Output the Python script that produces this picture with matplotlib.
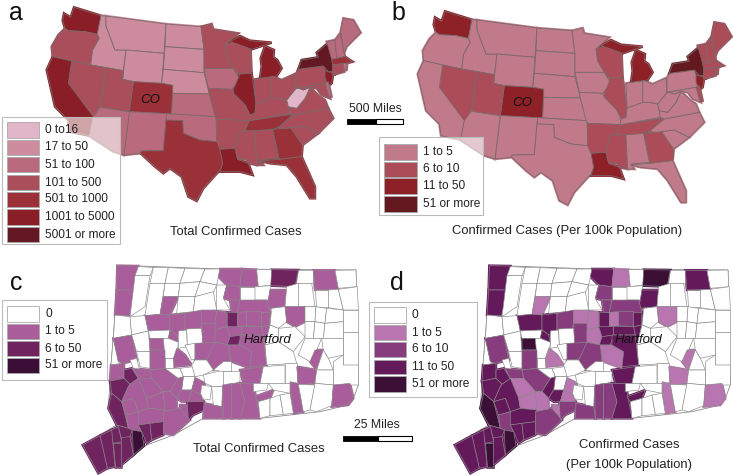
import matplotlib
matplotlib.use("Agg")
import matplotlib.pyplot as plt
from matplotlib.patches import Polygon, Rectangle

plt.rcParams['font.family'] = ['Liberation Sans', 'DejaVu Sans']

## state outlines at 3x pixel scale
state_names = ["WA", "OR", "ID", "MT", "ND", "SD", "WY", "NE", "CO", "KS", "NM", "UT", "NV", "CA", "AZ", "OK", "TX",
               "IA", "MN", "WI", "IL", "MO", "AR", "LA", "MS", "AL", "GA", "FL", "SC", "NC", "TN", "KY", "VA", "WV",
               "OH", "IN", "MIL", "MIU", "PA", "NY", "LI", "NJ", "MD", "DE", "VT", "NH", "ME", "MA", "CT", "RI"]
state_shapes = [
    [(222, 22), (303, 47), (292, 103), (255, 95), (205, 92), (195, 85), (188, 62), (192, 40), (212, 52)],
    [(195, 85), (205, 92), (255, 95), (292, 103), (298, 115), (278, 150), (272, 195), (215, 183), (158, 170), (155, 140), (175, 105)],
    [(303, 47), (318, 48), (318, 78), (345, 150), (378, 150), (370, 212), (318, 203), (272, 195), (278, 150), (298, 115), (292, 103)],
    [(318, 48), (498, 72), (492, 160), (378, 150), (345, 150), (318, 78)],
    [(498, 72), (603, 80), (612, 148), (495, 140)],
    [(495, 140), (612, 148), (612, 218), (490, 208)],
    [(378, 150), (492, 160), (485, 250), (400, 245), (368, 238)],
    [(490, 208), (612, 218), (628, 282), (518, 280), (518, 256), (485, 250)],
    [(400, 245), (485, 250), (518, 256), (515, 342), (388, 335)],
    [(518, 280), (628, 282), (648, 350), (515, 342)],
    [(388, 335), (500, 341), (490, 452), (425, 453), (420, 460), (372, 465)],
    [(318, 203), (370, 212), (368, 238), (400, 245), (388, 335), (303, 322)],
    [(215, 183), (272, 195), (318, 203), (300, 322), (282, 355), (272, 345), (205, 250)],
    [(158, 170), (215, 183), (205, 250), (280, 350), (272, 408), (210, 395), (205, 360), (165, 320), (140, 210)],
    [(300, 322), (388, 335), (372, 465), (340, 455), (268, 408), (280, 350)],
    [(500, 341), (515, 342), (648, 350), (650, 425), (600, 420), (550, 400), (548, 362), (498, 360)],
    [(498, 360), (548, 362), (550, 400), (600, 420), (650, 425), (658, 430), (668, 490), (660, 510), (610, 565), (590, 603),
     (565, 590), (545, 530), (510, 505), (490, 520), (465, 500), (420, 458), (425, 453), (490, 452)],
    [(612, 205), (700, 205), (720, 240), (695, 268), (625, 265)],
    [(603, 80), (635, 72), (640, 88), (715, 100), (675, 135), (680, 170), (700, 205), (612, 205), (612, 148)],
    [(675, 135), (715, 120), (752, 150), (755, 220), (718, 222), (700, 205), (680, 170)],
    [(720, 222), (755, 220), (768, 310), (765, 340), (750, 345), (735, 315), (700, 280), (700, 268)],
    [(625, 265), (695, 268), (700, 280), (735, 315), (750, 345), (748, 362), (650, 358), (645, 348), (628, 282)],
    [(650, 358), (748, 362), (735, 392), (718, 395), (705, 445), (660, 448), (650, 425)],
    [(660, 448), (705, 445), (713, 478), (745, 490), (758, 525), (720, 515), (660, 515), (668, 490)],
    [(718, 395), (735, 392), (765, 392), (770, 495), (745, 490), (740, 478), (713, 478), (705, 445)],
    [(765, 392), (818, 388), (835, 475), (780, 480), (790, 495), (770, 495)],
    [(818, 388), (855, 385), (870, 380), (908, 435), (905, 470), (838, 478)],
    [(778, 483), (838, 478), (905, 470), (945, 560), (945, 595), (930, 595), (890, 530), (860, 495), (810, 490)],
    [(855, 385), (910, 378), (955, 400), (908, 435), (870, 380)],
    [(880, 345), (985, 325), (1000, 355), (955, 400), (910, 378), (855, 385), (835, 382)],
    [(735, 392), (748, 362), (880, 342), (835, 382), (818, 388), (765, 392)],
    [(750, 345), (765, 340), (768, 312), (815, 295), (835, 295), (860, 300), (865, 320), (868, 340), (748, 362)],
    [(868, 340), (865, 320), (890, 325), (915, 295), (930, 262), (960, 290), (975, 300), (985, 325), (880, 345)],
    [(860, 300), (888, 265), (898, 265), (910, 270), (930, 262), (915, 295), (890, 325), (865, 320)],
    [(815, 228), (845, 240), (885, 222), (888, 265), (860, 300), (835, 295), (815, 295)],
    [(765, 238), (815, 230), (815, 295), (768, 312)],
    [(782, 175), (795, 138), (822, 150), (820, 172), (832, 180), (845, 205), (830, 228), (780, 235), (785, 200)],
    [(690, 125), (720, 108), (750, 122), (815, 128), (755, 148), (720, 135)],
    [(888, 222), (895, 208), (970, 198), (985, 240), (975, 250), (888, 265)],
    [(895, 208), (905, 180), (955, 172), (950, 158), (985, 128), (1000, 190), (1000, 215), (985, 215), (970, 198)],
    [(990, 222), (1025, 208), (1005, 224)],
    [(975, 212), (1000, 220), (995, 250), (985, 258), (975, 235)],
    [(888, 265), (975, 250), (990, 295), (965, 285), (950, 265), (930, 262), (910, 270), (898, 265)],
    [(975, 250), (985, 245), (995, 290), (988, 292)],
    [(980, 125), (1005, 120), (1010, 175), (995, 178)],
    [(1005, 120), (1020, 100), (1035, 170), (1010, 175)],
    [(1022, 95), (1030, 55), (1060, 60), (1082, 98), (1040, 140), (1032, 160)],
    [(995, 178), (1035, 170), (1058, 185), (1040, 190), (998, 195)],
    [(998, 195), (1030, 190), (1033, 215), (998, 225)],
    [(1030, 190), (1042, 190), (1040, 210), (1033, 212)],
]
## class index per state, same order as state_names
state_total = [5, 3, 1, 1, 1, 1, 1, 1, 4, 2, 2, 3, 3, 5, 2, 2, 4,
               2, 3, 3, 5, 3, 3, 5, 3, 3, 4, 4, 3, 3, 4, 3, 3, 0,
               3, 3, 5, 5, 3, 6, 6, 5, 3, 2, 2, 2, 2, 4, 3, 2]
state_rate = [2, 0, 0, 0, 0, 0, 0, 0, 2, 0, 0, 1, 1, 0, 0, 0, 0,
              0, 0, 1, 1, 0, 1, 2, 1, 0, 1, 0, 0, 0, 1, 0, 0, 0,
              0, 0, 2, 2, 0, 3, 3, 2, 0, 1, 1, 1, 1, 1, 1, 1]

total_labels = ["0 to16", "17 to 50", "51 to 100", "101 to 500", "501 to 1000", "1001 to 5000", "5001 or more"]
total_colors = ["#e0b6c8", "#cc8c9e", "#b96a7c", "#ab4e5b", "#9a3038", "#8a1e26", "#641824"]
rate_labels = ["1 to 5", "6 to 10", "11 to 50", "51 or more"]
rate_colors = ["#c07a8a", "#ab4c58", "#8e2028", "#641820"]

ct_outline = [(352, 32), (415, 33), (660, 42), (1068, 45), (1075, 390), (1060, 430), (1045, 450), (960, 470),
              (780, 490), (610, 490), (520, 540), (440, 570), (400, 600), (295, 655), (248, 570), (350, 510),
              (325, 460), (333, 330), (345, 180)]
## towns, row by row from the north border down
town_shapes = [
    [(352, 32), (415, 33), (405, 105), (350, 105)], [(415, 35), (460, 37), (450, 62), (405, 62)],
    [(460, 37), (505, 38), (495, 85), (450, 85)], [(505, 38), (555, 40), (540, 85), (495, 85)],
    [(555, 40), (615, 42), (600, 80), (540, 85)], [(615, 42), (660, 42), (650, 90), (600, 80)],
    [(660, 42), (725, 42), (720, 95), (680, 90), (655, 65)], [(725, 42), (770, 44), (775, 95), (720, 95)],
    [(770, 44), (815, 44), (815, 90), (775, 95)], [(815, 44), (895, 45), (885, 95), (812, 92)],
    [(895, 45), (940, 45), (940, 85), (888, 85)], [(940, 46), (1005, 46), (1015, 103), (945, 105)],
    [(1005, 46), (1068, 45), (1070, 95), (1015, 100)],
    ## second row
    [(350, 105), (405, 105), (405, 125), (388, 182), (345, 180)], [(405, 62), (450, 62), (435, 155), (390, 185)],
    [(450, 85), (495, 85), (480, 178), (435, 182)], [(495, 85), (540, 85), (535, 125), (490, 125)],
    [(490, 125), (535, 125), (510, 180), (480, 178)], [(540, 85), (600, 80), (585, 125), (535, 125)],
    [(535, 125), (585, 125), (580, 170), (530, 175)], [(600, 80), (650, 90), (640, 112), (585, 125)],
    [(585, 125), (640, 110), (650, 165), (580, 170)], [(650, 90), (680, 90), (670, 130), (690, 165), (650, 165)],
    [(680, 90), (720, 95), (720, 135), (690, 135), (670, 130)], [(720, 95), (765, 95), (765, 135), (720, 135)],
    [(765, 95), (812, 92), (805, 135), (765, 135)], [(810, 105), (860, 105), (855, 155), (800, 160), (805, 135)],
    [(860, 95), (895, 85), (895, 155), (855, 155)], [(895, 85), (935, 85), (945, 155), (895, 155)],
    [(945, 105), (985, 105), (985, 155), (948, 155)], [(985, 105), (1015, 103), (1030, 165), (985, 158)],
    [(1015, 103), (1072, 95), (1075, 165), (1030, 165)],
    ## third row
    [(690, 135), (720, 135), (712, 172), (695, 172)], [(720, 135), (800, 135), (810, 172), (712, 172)],
    [(345, 180), (390, 185), (395, 240), (340, 250)], [(390, 185), (435, 182), (445, 228), (395, 240)],
    [(435, 182), (480, 178), (510, 180), (510, 225), (445, 228)],
    [(510, 180), (555, 175), (555, 225), (530, 240), (510, 225)],
    [(555, 175), (605, 165), (605, 205), (600, 220), (555, 225)], [(605, 165), (650, 165), (645, 205), (605, 205)],
    [(650, 168), (680, 172), (680, 215), (645, 225), (645, 205)], [(680, 172), (712, 172), (712, 215), (680, 215)],
    [(712, 172), (740, 170), (740, 212), (712, 215)], [(740, 170), (785, 170), (785, 215), (740, 212)],
    [(785, 172), (810, 172), (808, 210), (785, 215)], [(815, 160), (855, 155), (860, 200), (835, 220), (810, 210)],
    [(855, 155), (915, 155), (915, 200), (885, 215), (860, 200)], [(915, 155), (948, 155), (945, 200), (915, 200)],
    [(948, 155), (980, 160), (975, 205), (945, 200)], [(980, 160), (1030, 165), (1030, 200), (975, 205)],
    [(1030, 165), (1075, 165), (1075, 230), (1030, 230)],
    ## fourth row
    [(340, 250), (355, 320), (368, 325), (333, 330)], [(340, 250), (395, 240), (410, 315), (368, 325), (355, 320)],
    [(395, 240), (445, 228), (450, 290), (410, 290)], [(445, 228), (510, 225), (505, 250), (450, 250)],
    [(450, 250), (490, 250), (495, 285), (450, 285)], [(510, 225), (530, 240), (535, 262), (505, 250)],
    [(490, 250), (505, 250), (535, 262), (530, 310), (495, 310)], [(535, 228), (560, 225), (562, 275), (535, 280)],
    [(560, 222), (605, 220), (608, 265), (562, 270)], [(605, 205), (645, 205), (645, 262), (608, 265)],
    [(645, 225), (680, 215), (690, 245), (685, 270), (645, 262)], [(680, 215), (725, 215), (725, 240), (690, 245)],
    [(682, 270), (690, 245), (725, 240), (715, 270)], [(725, 215), (785, 215), (790, 240), (725, 240)],
    [(785, 215), (810, 210), (795, 270), (790, 240)], [(810, 210), (835, 220), (835, 260), (795, 270)],
    [(835, 220), (885, 215), (915, 245), (880, 290), (835, 260)], [(915, 200), (945, 200), (940, 250), (915, 250)],
    [(945, 200), (975, 205), (970, 250), (940, 250)], [(975, 205), (1030, 200), (1030, 250), (970, 250)],
    [(1030, 230), (1075, 230), (1075, 330), (1030, 330), (1030, 250)],
    ## fifth row
    [(410, 290), (450, 290), (450, 340), (420, 335)], [(390, 315), (410, 310), (420, 350), (400, 340)],
    [(450, 285), (495, 285), (495, 340), (450, 345)], [(495, 310), (520, 310), (520, 340), (495, 340)],
    [(530, 280), (555, 300), (575, 330), (525, 335), (520, 310)], [(555, 270), (585, 265), (585, 312), (575, 315)],
    [(585, 265), (645, 262), (640, 310), (585, 315)], [(645, 262), (685, 270), (690, 320), (640, 345), (620, 315)],
    [(685, 270), (720, 270), (755, 290), (750, 340), (695, 320)], [(720, 240), (790, 240), (800, 330), (750, 335), (755, 290), (720, 270)],
    [(795, 270), (835, 260), (880, 290), (890, 325), (800, 330)], [(915, 250), (965, 250), (950, 285), (930, 320), (895, 300)],
    [(965, 250), (1030, 250), (1030, 300), (985, 310), (970, 285)], [(930, 320), (945, 285), (970, 285), (950, 345)],
    [(970, 285), (985, 310), (1000, 345), (950, 345)],
    ## sixth row
    [(333, 330), (372, 325), (372, 370), (330, 378)], [(372, 345), (395, 340), (415, 370), (390, 388), (372, 370)],
    [(400, 340), (450, 345), (455, 370), (415, 370)], [(450, 345), (495, 340), (535, 370), (510, 410), (490, 410), (455, 370)],
    [(495, 340), (540, 340), (550, 365), (535, 370)], [(540, 340), (580, 335), (585, 365), (550, 365)],
    [(575, 330), (585, 315), (620, 315), (640, 345), (610, 360), (585, 365)],
    [(610, 360), (670, 345), (670, 395), (640, 395), (615, 385)], [(640, 345), (670, 320), (695, 320), (695, 350), (670, 350)],
    [(670, 350), (720, 350), (720, 380), (670, 395)], [(720, 345), (790, 335), (780, 385), (730, 385)],
    [(790, 335), (855, 330), (855, 385), (780, 385)], [(855, 325), (890, 325), (890, 385), (855, 385)],
    [(890, 335), (950, 345), (945, 385), (895, 390)], [(1000, 320), (1030, 300), (1030, 330), (1075, 330), (1075, 390), (1000, 390)],
    [(950, 345), (1000, 345), (1000, 390), (945, 385)],
    ## seventh row
    [(330, 378), (372, 370), (390, 388), (385, 395), (365, 440), (335, 415)], [(415, 370), (455, 370), (490, 410), (440, 430)],
    [(385, 395), (390, 388), (415, 370), (440, 430), (445, 460), (415, 470), (400, 430), (365, 440)],
    [(550, 365), (585, 365), (575, 405), (545, 405)], [(535, 370), (550, 365), (545, 405), (530, 430), (510, 410)],
    [(585, 370), (615, 385), (605, 420), (575, 405)], [(605, 390), (635, 395), (630, 435), (600, 430)],
    [(635, 395), (668, 395), (665, 455), (640, 450)], [(668, 390), (695, 385), (695, 490), (670, 490)],
    [(695, 385), (720, 385), (735, 440), (720, 490), (695, 490)], [(720, 385), (760, 385), (780, 490), (720, 490), (735, 440)],
    [(760, 385), (805, 385), (800, 405), (760, 410)], [(765, 425), (820, 405), (810, 430), (775, 440)],
    [(805, 385), (870, 385), (870, 415), (820, 405)], [(870, 380), (895, 385), (910, 470), (880, 475)],
    [(895, 388), (945, 390), (930, 465), (910, 470)], [(945, 385), (1000, 390), (995, 452), (950, 470), (930, 465)],
    [(1000, 390), (1050, 385), (1060, 430), (1045, 450), (995, 455)],
    ## south coast
    [(335, 415), (365, 440), (385, 520), (350, 510), (325, 460)], [(365, 440), (400, 430), (415, 470), (380, 480)],
    [(380, 480), (415, 470), (415, 510), (425, 530), (397, 525), (385, 520)], [(440, 430), (490, 410), (495, 465), (445, 460)],
    [(415, 470), (445, 460), (495, 465), (490, 500), (415, 510)], [(490, 410), (510, 410), (530, 430), (530, 470), (495, 470)],
    [(545, 405), (575, 405), (565, 440), (545, 440), (530, 430)], [(575, 405), (605, 420), (610, 445), (565, 440)],
    [(540, 450), (565, 450), (570, 490), (545, 480)], [(490, 470), (540, 460), (570, 495), (520, 540), (490, 535)],
    [(562, 440), (612, 440), (612, 465), (580, 480), (565, 495)], [(612, 445), (640, 450), (665, 455), (670, 490), (610, 490)],
    [(775, 440), (810, 430), (810, 482), (780, 490)], [(810, 430), (840, 420), (850, 478), (810, 482)],
    [(840, 420), (870, 415), (880, 475), (850, 478)], [(415, 510), (450, 505), (455, 555), (440, 565), (425, 530)],
    [(450, 505), (490, 500), (490, 540), (455, 555)],
    ## fairfield corner
    [(350, 510), (385, 520), (397, 525), (390, 545), (365, 555), (355, 515)], [(397, 525), (425, 530), (432, 572), (400, 600)],
    [(365, 548), (390, 545), (400, 600), (362, 632)], [(330, 527), (355, 515), (365, 560), (340, 565)],
    [(340, 565), (362, 565), (362, 635), (345, 635)], [(300, 542), (335, 525), (345, 635), (322, 640)],
    [(248, 570), (300, 542), (322, 640), (295, 655)],
]
town_total = [
    1, 0, 0, 0, 0, 0, 1, 1, 0, 2, 0, 1, 0,
    1, 0, 0, 0, 1, 0, 0, 0, 0, 0, 1, 0, 0, 1, 0, 0, 0, 0, 0,
    1, 1, 0, 0, 1, 1, 1, 1, 1, 2, 1, 1, 1, 0, 1, 0, 0, 0, 0,
    0, 1, 0, 0, 1, 1, 0, 0, 0, 1, 1, 1, 2, 1, 1, 0, 0, 0, 0, 0, 0,
    0, 0, 1, 0, 1, 0, 1, 1, 1, 1, 0, 0, 0, 1, 0,
    1, 2, 1, 1, 0, 0, 0, 0, 0, 0, 1, 0, 0, 1, 0, 0,
    2, 1, 1, 0, 1, 1, 0, 0, 1, 1, 1, 0, 1, 0, 1, 0, 0, 1,
    2, 1, 1, 1, 1, 1, 1, 1, 1, 1, 2, 1, 0, 0, 0, 2, 2,
    2, 3, 2, 2, 2, 2, 2,
]
town_rate = [
    3, 0, 0, 0, 0, 0, 3, 1, 0, 4, 0, 3, 0,
    3, 0, 0, 0, 1, 0, 0, 0, 0, 0, 2, 0, 0, 3, 0, 0, 0, 0, 0,
    2, 2, 0, 0, 3, 3, 2, 1, 1, 3, 1, 2, 3, 0, 1, 0, 0, 0, 0,
    0, 2, 0, 0, 4, 3, 0, 0, 0, 2, 1, 3, 3, 3, 3, 0, 0, 0, 0, 0, 0,
    0, 0, 2, 0, 1, 0, 2, 2, 1, 3, 0, 0, 0, 1, 0,
    3, 3, 2, 2, 0, 0, 0, 0, 0, 0, 3, 0, 0, 1, 0, 0,
    3, 1, 3, 0, 3, 1, 0, 0, 2, 2, 3, 0, 3, 0, 1, 0, 0, 1,
    4, 3, 2, 1, 3, 1, 3, 1, 1, 2, 2, 2, 0, 0, 0, 3, 3,
    3, 4, 3, 3, 4, 3, 3,
]

ct_total_labels = ["0", "1 to 5", "6 to 50", "51 or more"]
ct_total_colors = ["#ffffff", "#a95e9b", "#6f2460", "#3a0e36"]
ct_rate_labels = ["0", "1 to 5", "6 to 10", "11 to 50", "51 or more"]
ct_rate_colors = ["#ffffff", "#b975b0", "#873c7d", "#64195a", "#3c0f37"]


## two passes: a fat stroke in the region's own colour closes the small slivers
## between hand traced neighbours, then the real fill and outline go on top
def draw_map(ax, shapes, classes, colors, dx, dy, edge, lw):
    for pts, k in zip(shapes, classes):
        xy = [(x / 3 + dx, y / 3 + dy) for x, y in pts]
        if colors[k] != '#ffffff':
            ax.add_patch(Polygon(xy, closed=True, facecolor=colors[k], edgecolor=colors[k], linewidth=1.8, zorder=1.5))
    for pts, k in zip(shapes, classes):
        xy = [(x / 3 + dx, y / 3 + dy) for x, y in pts]
        ax.add_patch(Polygon(xy, closed=True, facecolor=colors[k], edgecolor=edge, linewidth=lw, zorder=2))


def draw_legend(ax, box, labels, colors, tops, bottoms, x0, x1, xt, alpha):
    ax.add_patch(Rectangle((box[0], box[1]), box[2] - box[0], box[3] - box[1], facecolor=(1, 1, 1, alpha),
                           edgecolor='#bbbbbb', linewidth=0.8, zorder=5))
    for lab, col, t, b in zip(labels, colors, tops, bottoms):
        ax.add_patch(Rectangle((x0, t), x1 - x0, b - t, facecolor=col, edgecolor='#aaaaaa', linewidth=0.6, zorder=6))
        ax.text(xt, (t + b) / 2, lab, fontsize=8.6, color='#222222', va='center', ha='left', zorder=7)


fig = plt.figure(figsize=(7.33, 4.75), dpi=100)
ax = fig.add_axes([0, 0, 1, 1])
ax.set_xlim(0, 733)
ax.set_ylim(475, 0)
ax.axis('off')

draw_map(ax, state_shapes, state_total, total_colors, 0, 0, '#7a6a6a', 0.6)
draw_map(ax, state_shapes, state_rate, rate_colors, 371, 4, '#7a6a6a', 0.6)

for dx in (0, 372):
    xy = [(x / 3 + dx, y / 3 + 255) for x, y in ct_outline]
    ax.add_patch(Polygon(xy, closed=True, facecolor='white', edgecolor='#888888', linewidth=0.6, zorder=1))
draw_map(ax, town_shapes, town_total, ct_total_colors, 0, 255, '#8a8a8a', 0.45)
draw_map(ax, town_shapes, town_rate, ct_rate_colors, 372, 255, '#8a8a8a', 0.45)

draw_legend(ax, (2, 117, 120, 244), total_labels, total_colors,
            [122, 140, 157, 175, 192, 209, 227], [138, 155, 172, 190, 207, 225, 242], 7, 39, 45, 0.6)
draw_legend(ax, (379, 137, 483, 215), rate_labels, rate_colors,
            [144, 162, 178, 196], [160, 177, 194, 212], 384, 417, 423, 0.6)
draw_legend(ax, (2, 300, 107, 380), ct_total_labels, ct_total_colors,
            [306, 324, 341, 358], [322, 339, 356, 373], 7, 39, 45, 0.9)
draw_legend(ax, (369, 302, 477, 397), ct_rate_labels, ct_rate_colors,
            [307, 325, 342, 360, 376], [323, 340, 357, 374, 392], 374, 406, 412, 0.9)

## scale bars
ax.add_patch(Rectangle((347, 119), 29, 5, facecolor='black', edgecolor='black', linewidth=0.6, zorder=4))
ax.add_patch(Rectangle((376, 119), 27, 5, facecolor='white', edgecolor='black', linewidth=0.8, zorder=4))
ax.text(375, 109, "500 Miles", fontsize=8.8, ha='center', va='center', color='#222222')
ax.add_patch(Rectangle((343, 436), 35, 5, facecolor='black', edgecolor='black', linewidth=0.6, zorder=4))
ax.add_patch(Rectangle((378, 436), 34, 5, facecolor='white', edgecolor='black', linewidth=0.8, zorder=4))
ax.text(377, 425, "25 Miles", fontsize=8.8, ha='center', va='center', color='#222222')

## panel text
for x, y, s in [(16, 20, "a"), (398, 20, "b"), (16, 290, "c"), (397, 290, "d")]:
    ax.text(x, y, s, fontsize=18, ha='center', va='baseline', color='#111111')
ax.text(236, 232, "Total Confirmed Cases", fontsize=9.4, ha='center', va='center', color='#222222')
ax.text(567, 231, "Confirmed Cases (Per 100k Population)", fontsize=9.4, ha='center', va='center', color='#222222')
ax.text(259, 449, "Total Confirmed Cases", fontsize=9.4, ha='center', va='center', color='#222222')
ax.text(629, 445, "Confirmed Cases", fontsize=9.4, ha='center', va='center', color='#222222')
ax.text(629, 465, "(Per 100k Population)", fontsize=9.4, ha='center', va='center', color='#222222')
ax.text(150, 100, "CO", fontsize=9.5, style='italic', ha='center', va='center', color='#111111', zorder=4)
ax.text(522, 103, "CO", fontsize=9.5, style='italic', ha='center', va='center', color='#111111', zorder=4)
ax.text(267, 340, "Hartford", fontsize=9.5, style='italic', ha='center', va='center', color='#111111', zorder=4)
ax.text(638, 340, "Hartford", fontsize=9.5, style='italic', ha='center', va='center', color='#111111', zorder=4)

fig.savefig("out.png", dpi=100)
